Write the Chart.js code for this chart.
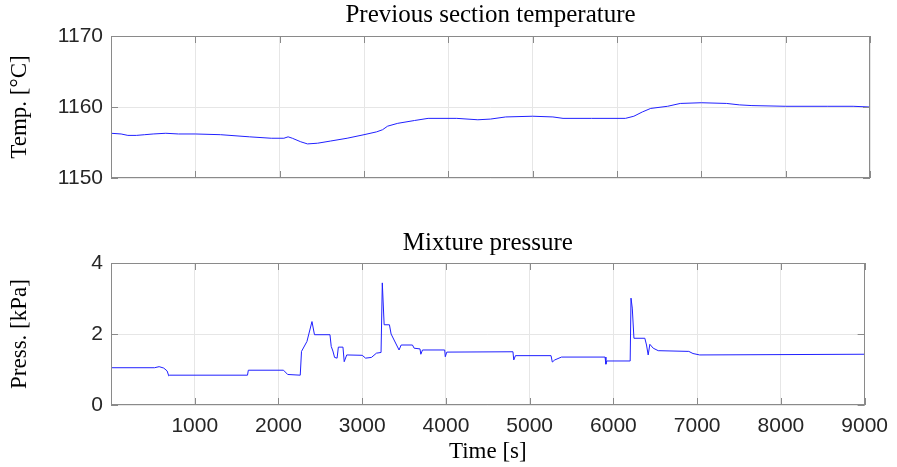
<!DOCTYPE html>
<html>
<head>
<meta charset="utf-8">
<script src="https://cdn.jsdelivr.net/npm/chart.js@4"></script>
<style>
  body { margin: 0; background: #fff; }
  .wrap { position: absolute; left: 0; width: 897px; }
</style>
</head>
<body>
<div class="wrap" style="top:0;height:200px"><canvas id="temp" width="897" height="200"></canvas></div>
<div class="wrap" style="top:200px;height:267px"><canvas id="press" width="897" height="267"></canvas></div>
<script>
// previous section temperature, degC
const tempTime = [0, 120, 200, 300, 400, 500, 650, 800, 1000, 1300, 1640, 1900, 2050, 2100, 2150, 2250, 2330, 2450,
  2600, 2800, 3000, 3150, 3220, 3280, 3400, 3600, 3760, 4100, 4350, 4500, 4680, 5000, 5240, 5360, 5700, 6100,
  6200, 6300, 6400, 6600, 6750, 7000, 7300, 7450, 7600, 8000, 8500, 8800, 9000];
const tempValues = [1156.3, 1156.2, 1156.0, 1156.0, 1156.1, 1156.2, 1156.3, 1156.2, 1156.2, 1156.1, 1155.8, 1155.6,
  1155.6, 1155.8, 1155.6, 1155.1, 1154.8, 1154.9, 1155.2, 1155.6, 1156.1, 1156.5, 1156.8, 1157.3, 1157.7, 1158.1,
  1158.4, 1158.4, 1158.2, 1158.3, 1158.6, 1158.7, 1158.6, 1158.4, 1158.4, 1158.4, 1158.7, 1159.3, 1159.8, 1160.1,
  1160.5, 1160.6, 1160.5, 1160.3, 1160.2, 1160.1, 1160.1, 1160.1, 1160.0];

// mixture pressure, kPa
const pressTime = [0, 520, 575, 630, 670, 690, 700, 1630, 1640, 2060, 2110, 2260, 2275, 2340, 2400, 2430, 2615,
  2630, 2650, 2670, 2700, 2715, 2770, 2785, 2815, 3000, 3040, 3110, 3170, 3225, 3240, 3262, 3325, 3345, 3440,
  3465, 3600, 3620, 3690, 3700, 3720, 3985, 3992, 4010, 4800, 4810, 4830, 5255, 5270, 5300, 5380, 5900, 5910,
  5920, 6200, 6210, 6225, 6245, 6375, 6395, 6415, 6435, 6475, 6535, 6900, 6950, 7030, 9000];
const pressValues = [1.05, 1.05, 1.08, 1.04, 0.96, 0.82, 0.84, 0.84, 0.98, 0.98, 0.86, 0.84, 1.51, 1.79, 2.35,
  1.98, 1.98, 1.65, 1.52, 1.34, 1.32, 1.63, 1.63, 1.22, 1.41, 1.40, 1.32, 1.34, 1.46, 1.48, 3.44, 2.26, 2.26,
  2.00, 1.55, 1.69, 1.69, 1.60, 1.58, 1.43, 1.55, 1.55, 1.36, 1.49, 1.50, 1.27, 1.39, 1.39, 1.21, 1.27, 1.35,
  1.35, 1.15, 1.24, 1.24, 3.01, 2.73, 1.88, 1.88, 1.69, 1.41, 1.71, 1.60, 1.53, 1.51, 1.45, 1.41, 1.43];

const timeTicks = [1000, 2000, 3000, 4000, 5000, 6000, 7000, 8000, 9000];
const tempTicks = [1150, 1160, 1170];
const pressTicks = [0, 2, 4];

Chart.defaults.font.family = 'Liberation Sans';
Chart.defaults.color = '#262626';

const AXIS = '#8a8a8a';
const SERIF = 'Liberation Serif';

// matlab style box with inward ticks on all four sides
const boxTicks = {
  id: 'boxTicks',
  afterDraw(chart) {
    const { ctx, chartArea: a, scales: { x, y } } = chart;
    const L = 7;
    ctx.save();
    ctx.strokeStyle = AXIS;
    ctx.lineWidth = 1;
    ctx.beginPath();
    x.ticks.forEach(t => {
      const px = Math.round(x.getPixelForValue(t.value)) + 0.5;
      ctx.moveTo(px, a.bottom); ctx.lineTo(px, a.bottom - L);
      ctx.moveTo(px, a.top); ctx.lineTo(px, a.top + L);
    });
    y.ticks.forEach(t => {
      const py = Math.round(y.getPixelForValue(t.value)) + 0.5;
      ctx.moveTo(a.left, py); ctx.lineTo(a.left + L, py);
      ctx.moveTo(a.right, py); ctx.lineTo(a.right - L, py);
    });
    ctx.stroke();
    ctx.strokeRect(Math.round(a.left) + 0.5, Math.round(a.top) + 0.5,
      Math.round(a.width) - 1, Math.round(a.height) - 1);
    ctx.restore();
  },
};

function makeChart(id, time, values, opts) {
  return new Chart(document.getElementById(id), {
    type: 'line',
    data: {
      datasets: [{
        data: time.map((t, i) => ({ x: t, y: values[i] })),
        borderColor: '#2020ff',
        borderWidth: 1,
        pointRadius: 0,
        tension: 0,
      }],
    },
    options: {
      responsive: false,
      animation: false,
      layout: { padding: { left: 0, right: 27, top: 0, bottom: 0 } },
      plugins: {
        legend: { display: false },
        tooltip: { enabled: false },
        title: {
          display: true,
          fullSize: false,
          text: opts.title,
          color: '#000',
          font: { family: SERIF, size: 25, weight: 'normal' },
          padding: opts.titlePad,
        },
      },
      scales: {
        x: {
          type: 'linear',
          min: 0, max: 9000,
          afterBuildTicks: s => { s.ticks = [0, ...timeTicks].map(v => ({ value: v })); },
          afterFit: s => { s.height = opts.xHeight; },
          grid: { color: '#e6e6e6', drawTicks: false },
          border: { display: false },
          ticks: {
            display: opts.showX,
            padding: 9,
            font: { size: 21 },
            callback: v => (v === 0 ? '' : String(v)),
          },
          title: {
            display: opts.showX,
            text: 'Time [s]',
            color: '#000',
            font: { family: SERIF, size: 23 },
            padding: { top: 0, bottom: 1 },
          },
        },
        y: {
          min: opts.yTicks[0], max: opts.yTicks[opts.yTicks.length - 1],
          afterBuildTicks: s => { s.ticks = opts.yTicks.map(v => ({ value: v })); },
          afterFit: s => { s.width = 111; },
          grid: { color: '#e6e6e6', drawTicks: false },
          border: { display: false },
          ticks: { padding: 8, font: { size: 21 }, callback: v => String(v) },
          title: {
            display: true,
            text: opts.yLabel,
            color: '#000',
            font: { family: SERIF, size: 23 },
            padding: { top: 6, bottom: 0 },
          },
        },
      },
    },
    plugins: [boxTicks],
  });
}

makeChart('temp', tempTime, tempValues, {
  title: 'Previous section temperature',
  titlePad: { top: 0, bottom: 6 },
  xHeight: 22,
  showX: false,
  yTicks: tempTicks,
  yLabel: 'Temp. [°C]',
});

makeChart('press', pressTime, pressValues, {
  title: 'Mixture pressure',
  titlePad: { top: 28, bottom: 5 },
  xHeight: 62,
  showX: true,
  yTicks: pressTicks,
  yLabel: 'Press. [kPa]',
});
</script>
</body>
</html>
